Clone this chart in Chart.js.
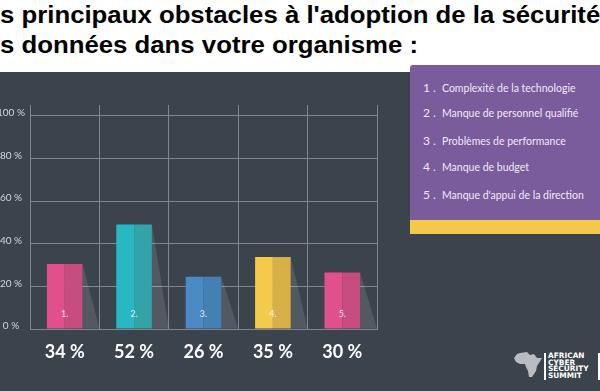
<!DOCTYPE html>
<html>
<head>
<meta charset="utf-8">
<script src="https://cdn.jsdelivr.net/npm/chart.js@4.4.1/dist/chart.umd.min.js"></script>
<style>
  html, body { margin:0; padding:0; width:600px; height:391px; overflow:hidden; background:#ffffff; }
  #title1, #title2 { position:absolute; left:0; font-family:"Liberation Sans", Arial, sans-serif; font-weight:bold; font-size:23px; line-height:23px; color:#000; white-space:nowrap; transform:scaleX(1.12); transform-origin:0 0; }
  #title1 { top:3.5px; }
  #title2 { top:33.5px; }
  #panel { position:absolute; left:0; top:72px; width:600px; height:319px; background:#3b434c; }
  #chartWrap { position:absolute; left:0; top:72px; width:400px; height:319px; }
  #legendBox { position:absolute; left:410px; top:65px; width:190px; height:155px; background:#7a5b9c; border-top-left-radius:3px; }
  #legendStrip { position:absolute; left:410px; top:220px; width:190px; height:14px; background:#f3c94b; }
  .item { position:absolute; left:13px; font-family:Lato, "Open Sans", sans-serif; font-size:10.5px; color:#f1eaf5; white-space:nowrap; }
  .item .num { display:inline-block; width:19px; font-size:12px; letter-spacing:3px; }
  #logo { position:absolute; left:514px; top:352px; width:86px; height:30px; }
  #logoText { position:absolute; left:34px; top:1px; font-family:"DejaVu Sans", sans-serif; font-weight:bold; font-size:7.4px; line-height:6.6px; color:#ffffff; }
  #logoBar { position:absolute; left:30px; top:1px; width:2px; height:27px; background:#ffffff; }
  #logoBar2 { position:absolute; left:84px; top:1px; width:2px; height:27px; background:#ffffff; }
</style>
</head>
<body>
<div id="title1">s principaux obstacles à l'adoption de la sécurité</div>
<div id="title2">s données dans votre organisme :</div>
<div id="panel"></div>
<div id="chartWrap"><canvas id="c" width="400" height="319"></canvas></div>
<div id="legendBox"></div>
<div id="legendStrip"></div>
<div id="logo">
  <svg width="30" height="28" viewBox="0 0 30 28" style="position:absolute;left:0;top:0">
    <path d="M6 1 L13 0 L16 3 L20 2 L23 6 L28 6 L25 11 L23 14 L22 19 L18 25 L15 25 L14 19 L12 15 L11 12 L6 12 L2 10 L0 6 L3 2 Z" fill="#b9bdc2"/>
  </svg>
  <div id="logoBar"></div>
  <div id="logoText">AFRICAN<br>CYBER<br>SECURITY<br>SUMMIT</div>
  <div id="logoBar2"></div>
</div>
<script>
// ---- data ----
const categories = ['1.', '2.', '3.', '4.', '5.'];
const barValues = [30.5, 49, 24.5, 33.7, 26.5];
const percentLabels = ['34 %', '52 %', '26 %', '35 %', '30 %'];
const yTickValues = [0, 20, 40, 60, 80, 100];
const legendItems = [
  'Complexité de la technologie',
  'Manque de personnel qualifié',
  'Problèmes de performance',
  'Manque de budget',
  "Manque d'appui de la direction"
];

// ---- styles ----
const lightColors = ['#e1508a', '#28b8c3', '#4a8bc6', '#f3ca4a', '#e1508a'];
const darkColors  = ['#c64d7d', '#33a3a7', '#4381b5', '#d8b049', '#c64d7d'];
const gridColor = '#80868d';
const legendTops = [87, 112, 140, 166, 194];

// legend (HTML text)
const box = document.getElementById('legendBox');
legendItems.forEach((t, i) => {
  const d = document.createElement('div');
  d.className = 'item';
  d.style.top = (legendTops[i] - 65 - 7) + 'px';
  d.innerHTML = '<span class="num">' + (i + 1) + '.</span>' + t;
  box.appendChild(d);
});

const barDecor = {
  id: 'barDecor',
  beforeDatasetsDraw(chart) {
    const ctx = chart.ctx;
    const xs = chart.scales.x;
    const step = xs.getPixelForValue(1) - xs.getPixelForValue(0);
    const meta = chart.getDatasetMeta(1);
    ctx.save();
    ctx.fillStyle = 'rgba(255,255,255,0.12)';
    meta.data.forEach((bar, i) => {
      const right = bar.x + bar.width / 2;
      const edge = xs.getPixelForValue(i) + step / 2;
      ctx.beginPath();
      ctx.moveTo(right, bar.y);
      ctx.lineTo(edge, bar.base);
      ctx.lineTo(right, bar.base);
      ctx.closePath();
      ctx.fill();
    });
    ctx.restore();
  },
  afterDatasetsDraw(chart) {
    const ctx = chart.ctx;
    const meta = chart.getDatasetMeta(0);
    ctx.save();
    ctx.font = '9px Lato, sans-serif';
    ctx.fillStyle = 'rgba(255,255,255,0.85)';
    ctx.textAlign = 'center';
    ctx.textBaseline = 'middle';
    meta.data.forEach((bar, i) => {
      ctx.fillText(categories[i], bar.x + bar.width / 2, bar.base - 14);
    });
    ctx.restore();
  }
};

new Chart(document.getElementById('c'), {
  type: 'bar',
  data: {
    labels: categories,
    datasets: [
      { data: barValues, backgroundColor: lightColors, borderWidth: 0 },
      { data: barValues, backgroundColor: darkColors, borderWidth: 0 }
    ]
  },
  options: {
    responsive: false,
    animation: false,
    devicePixelRatio: 1,
    categoryPercentage: 0.513,
    barPercentage: 1.0,
    layout: { padding: { top: 33, left: 0, right: 23, bottom: 0 } },
    plugins: { legend: { display: false }, tooltip: { enabled: false } },
    scales: {
      x: {
        grid: { color: gridColor, lineWidth: 1, drawTicks: false, offset: true },
        border: { color: gridColor, width: 1 },
        ticks: {
          padding: 12,
          color: '#ffffff',
          font: { family: 'Lato, sans-serif', size: 18, weight: 'bold' },
          callback: (v, i) => percentLabels[i]
        },
        afterFit: s => { s.height = 62; }
      },
      y: {
        min: 0,
        max: 105,
        grid: { color: gridColor, lineWidth: 1, drawTicks: false },
        border: { color: gridColor, width: 1 },
        afterBuildTicks: s => { s.ticks = yTickValues.map(v => ({ value: v })); },
        ticks: {
          padding: 5,
          crossAlign: 'center',
          labelOffset: -3,
          color: '#d4d7da',
          font: { family: 'Lato, sans-serif', size: 10 },
          callback: v => v + ' %'
        },
        afterFit: s => { s.width = 30; }
      }
    }
  },
  plugins: [barDecor]
});
</script>
</body>
</html>
